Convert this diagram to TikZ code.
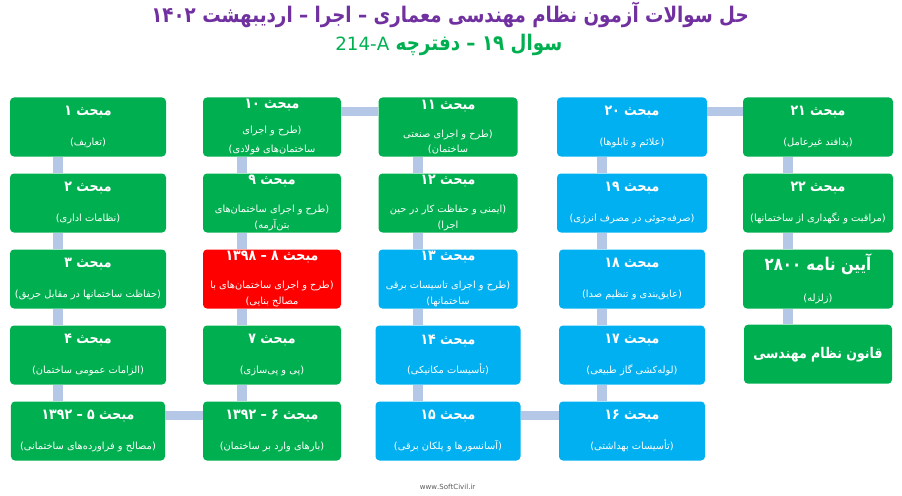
\documentclass[tikz,border=0pt]{standalone}
\usepackage{fontspec}
\usepackage{tikz}
\newfontfamily\farsi[Script=Arabic]{DejaVu Sans}
\newfontfamily\farsih[Script=Arabic,FakeStretch=0.85]{DejaVu Sans}
\TeXXeTstate=1
\definecolor{mgreen}{HTML}{00B050}
\definecolor{mblue}{HTML}{00B0F0}
\definecolor{mred}{HTML}{FF0000}
\definecolor{mpurple}{HTML}{7030A0}
\definecolor{linkcol}{HTML}{B4C7E7}
\newcommand\mtitle[1]{{\farsih\bfseries\fontsize{10.5}{0}\selectfont\beginR #1\endR}}
\newcommand\mtext[1]{{\fontsize{7}{0}\selectfont\beginR #1\endR}}

\begin{document}
\begin{tikzpicture}[
    box/.style={rectangle, rounded corners=0.1cm, inner sep=1pt, align=center,
      text=white, minimum height=1.475cm,
      font={\farsi\fontsize{7}{0}\selectfont\lineskiplimit-\maxdimen}},
    vlink/.style={draw=linkcol, line width=0.25cm},
    hlink/.style={draw=linkcol, line width=0.21cm}
  ]
    \useasboundingbox (0,0) rectangle (22.55,12.375);
    % title
    \node[text=mpurple, font=\farsih\bfseries\fontsize{15.3}{17}\selectfont] (ttl1) at (11.25,12.0)
      {\beginR حل سوالات آزمون نظام مهندسی معماری – اجرا – اردیبهشت ۱۴۰۲\endR};
    \node[text=mgreen, font=\farsih\bfseries\fontsize{15.3}{17}\selectfont] (ttl2) at (11.22,11.25)
      {\beginR سوال ۱۹ – دفترچه {\farsi\mdseries\fontsize{13}{15}\selectfont 214-A}\endR};
    % first column
    \node[box, fill=mgreen, minimum width=3.9cm] (b1) at (2.2,9.2) {\mtitle{مبحث ۱}\\[21pt]\mtext{(تعاریف)}};
    \node[box, fill=mgreen, minimum width=3.9cm] (b2) at (2.2,7.3) {\mtitle{مبحث ۲}\\[21pt]\mtext{(نظامات اداری)}};
    \node[box, fill=mgreen, minimum width=3.9cm] (b3) at (2.2,5.4) {\mtitle{مبحث ۳}\\[21pt]\mtext{(حفاظت ساختمانها در مقابل حریق)}};
    \node[box, fill=mgreen, minimum width=3.9cm] (b4) at (2.2,3.5) {\mtitle{مبحث ۴}\\[21pt]\mtext{(الزامات عمومی ساختمان)}};
    \node[box, fill=mgreen, minimum width=3.85cm] (b5) at (2.2,1.6) {\mtitle{مبحث ۵ – ۱۳۹۲}\\[21pt]\mtext{(مصالح و فراورده^^^^200cهای ساختمانی)}};
    % second column
    \node[box, fill=mgreen, minimum width=3.45cm] (b6) at (6.8,1.6) {\mtitle{مبحث ۶ – ۱۳۹۲}\\[21pt]\mtext{(بارهای وارد بر ساختمان)}};
    \node[box, fill=mgreen, minimum width=3.45cm] (b7) at (6.8,3.5) {\mtitle{مبحث ۷}\\[21pt]\mtext{(پی و پی^^^^200cسازی)}};
    \node[box, fill=mred, minimum width=3.45cm] (b8) at (6.8,5.4) {\mtitle{مبحث ۸ – ۱۳۹۸}\\[20pt]\mtext{(طرح و اجرای ساختمان^^^^200cهای با}\\[11pt]\mtext{مصالح بنایی)}};
    \node[box, fill=mgreen, minimum width=3.45cm] (b9) at (6.8,7.3) {\mtitle{مبحث ۹}\\[20pt]\mtext{(طرح و اجرای ساختمان^^^^200cهای}\\[11pt]\mtext{بتن^^^^200cآرمه)}};
    \node[box, fill=mgreen, minimum width=3.45cm] (b10) at (6.8,9.2) {\mtitle{مبحث ۱۰}\\[18pt]\mtext{(طرح و اجرای}\\[13pt]\mtext{ساختمان^^^^200cهای فولادی)}};
    % third column
    \node[box, fill=mgreen, minimum width=3.475cm] (b11) at (11.2,9.2) {\mtitle{مبحث ۱۱}\\[20pt]\mtext{(طرح و اجرای صنعتی}\\[11pt]\mtext{ساختمان)}};
    \node[box, fill=mgreen, minimum width=3.475cm] (b12) at (11.2,7.3) {\mtitle{مبحث ۱۲}\\[20pt]\mtext{(ایمنی و حفاظت کار در حین}\\[11pt]\mtext{اجرا)}};
    \node[box, fill=mblue, minimum width=3.475cm] (b13) at (11.2,5.4) {\mtitle{مبحث ۱۳}\\[20pt]\mtext{(طرح و اجرای تاسیسات برقی}\\[11pt]\mtext{ساختمانها)}};
    \node[box, fill=mblue, minimum width=3.625cm] (b14) at (11.2,3.5) {\mtitle{مبحث ۱۴}\\[21pt]\mtext{(تأسیسات مکانیکی)}};
    \node[box, fill=mblue, minimum width=3.625cm] (b15) at (11.2,1.6) {\mtitle{مبحث ۱۵}\\[21pt]\mtext{(آسانسورها و پلکان برقی)}};
    % fourth column
    \node[box, fill=mblue, minimum width=3.65cm] (b16) at (15.8,1.6) {\mtitle{مبحث ۱۶}\\[21pt]\mtext{(تأسیسات بهداشتی)}};
    \node[box, fill=mblue, minimum width=3.65cm] (b17) at (15.8,3.5) {\mtitle{مبحث ۱۷}\\[21pt]\mtext{(لوله^^^^200cکشی گاز طبیعی)}};
    \node[box, fill=mblue, minimum width=3.65cm] (b18) at (15.8,5.4) {\mtitle{مبحث ۱۸}\\[21pt]\mtext{(عایق^^^^200cبندی و تنظیم صدا)}};
    \node[box, fill=mblue, minimum width=3.75cm] (b19) at (15.8,7.3) {\mtitle{مبحث ۱۹}\\[21pt]\mtext{(صرفه^^^^200cجوئی در مصرف انرژی)}};
    \node[box, fill=mblue, minimum width=3.75cm] (b20) at (15.8,9.2) {\mtitle{مبحث ۲۰}\\[21pt]\mtext{(علائم و تابلوها)}};
    % fifth column
    \node[box, fill=mgreen, minimum width=3.75cm] (b21) at (20.45,9.2) {\mtitle{مبحث ۲۱}\\[21pt]\mtext{(پدافند غیرعامل)}};
    \node[box, fill=mgreen, minimum width=3.75cm] (b22) at (20.45,7.3) {\mtitle{مبحث ۲۲}\\[21pt]\mtext{(مراقبت و نگهداری از ساختمانها)}};
    \node[box, fill=mgreen, minimum width=3.75cm] (aeen) at (20.45,5.4)
      {{\farsih\bfseries\fontsize{12.5}{0}\selectfont\beginR آیین نامه ۲۸۰۰\endR}\\[22pt]\mtext{(زلزله)}};
    \node[box, fill=mgreen, minimum width=3.7cm] (ghanoon) at (20.45,3.52)
      {{\farsih\bfseries\fontsize{10.5}{0}\selectfont\beginR قانون نظام مهندسی\endR}};
    % connectors
    \foreach \a/\b in {b1/b2,b2/b3,b3/b4,b4/b5,b10/b9,b9/b8,b8/b7,b7/b6,
                       b11/b12,b12/b13,b13/b14,b14/b15,b20/b19,b19/b18,b18/b17,b17/b16,
                       b21/b22,b22/aeen,aeen/ghanoon} {
      \draw[vlink] ([xshift=-0.75cm]\a.south) -- ([xshift=-0.75cm]\b.north);
    }
    \foreach \a/\b in {b5/b6,b10/b11,b15/b16,b20/b21} {
      \draw[hlink] ([yshift=0.39cm]\a.east) -- ([yshift=0.39cm]\b.west);
    }
    \node[text=black!65, font=\farsi\fontsize{5}{6}\selectfont] (web) at (11.19,0.21) {www.SoftCivil.ir};
  \end{tikzpicture}
\end{document}
